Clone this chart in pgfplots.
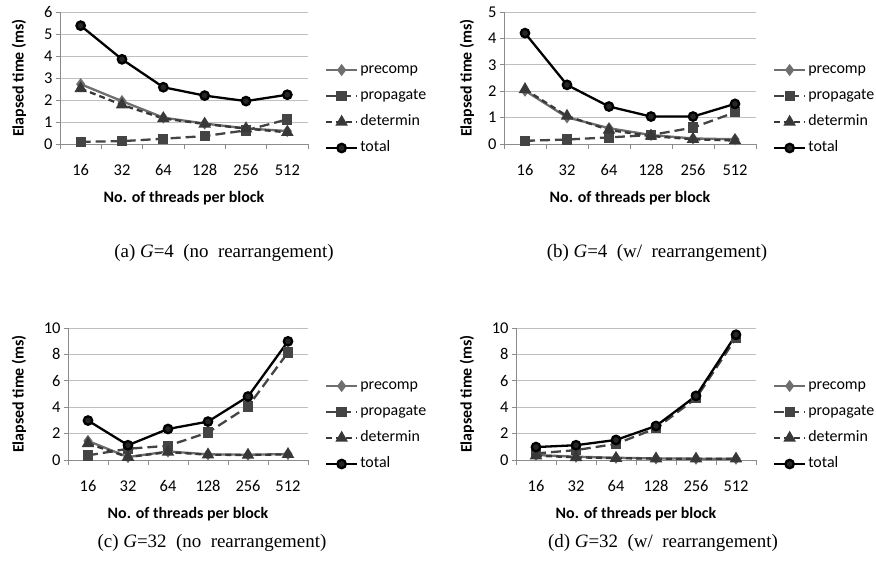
\documentclass[border=0pt]{standalone}
\usepackage{fontspec}
\setmainfont{Carlito}
\newfontfamily\capfont{Liberation Serif}
\usepackage{pgfplots}
\usepackage{pgfplotstable}
\pgfplotsset{compat=1.18}

\definecolor{gridc}{HTML}{BFBFBF}
\definecolor{axc}{HTML}{8C8C8C}
\definecolor{pre}{HTML}{6E6E6E}
\definecolor{prop}{HTML}{444444}
\definecolor{det}{HTML}{383838}

% x: 0..5 = 16,32,64,128,256,512 threads
\pgfplotstableread{
x pre prop det tot
0 2.72 0.10 2.52 5.38
1 1.95 0.13 1.78 3.85
2 1.20 0.24 1.16 2.58
3 0.93 0.36 0.91 2.20
4 0.71 0.62 0.70 1.95
5 0.59 1.12 0.53 2.24
}\tabA
\pgfplotstableread{
x pre prop det tot
0 2.02 0.12 2.07 4.20
1 1.01 0.17 1.06 2.24
2 0.60 0.25 0.53 1.42
3 0.34 0.34 0.30 1.04
4 0.21 0.62 0.18 1.04
5 0.18 1.20 0.13 1.52
}\tabB
\pgfplotstableread{
x pre prop det tot
0 1.45 0.35 1.25 2.99
1 0.22 0.85 0.22 1.12
2 0.65 1.08 0.60 2.35
3 0.43 2.08 0.40 2.91
4 0.40 4.05 0.38 4.81
5 0.45 8.15 0.43 8.99
}\tabC
\pgfplotstableread{
x pre prop det tot
0 0.38 0.50 0.33 0.98
1 0.25 0.75 0.20 1.12
2 0.17 1.22 0.14 1.52
3 0.12 2.40 0.10 2.58
4 0.10 4.68 0.09 4.86
5 0.10 9.24 0.09 9.49
}\tabD

\pgfplotsset{
  panel/.style={
    scale only axis, height=132bp,
    xmin=-0.5, xmax=5.5, ymin=0,
    xtick={0,...,5}, xticklabels={16,32,64,128,256,512},
    minor xtick={-0.5,0.5,...,5.5},
    major x tick style={draw=none},
    minor x tick style={axc, line width=0.8bp},
    minor tick length=5bp, major tick length=4bp,
    tick align=outside,
    axis x line*=bottom, axis y line*=left,
    axis line style={axc, line width=0.8bp, -},
    ymajorgrids, grid style={gridc, line width=0.8bp},
    ytick style={axc, line width=0.8bp},
    /pgf/number format/assume math mode=true,
    tick label style={font=\fontsize{16.5}{19}\selectfont, black},
    xticklabel style={yshift=-13bp},
    xlabel={No. of threads per block},
    ylabel={Elapsed time (ms)},
    label style={font=\fontsize{16}{19}\selectfont\bfseries},
    xlabel style={at={(axis description cs:0.5,-0.41)}, anchor=center},
    legend cell align=left,
    legend style={at={(1,0.265)}, anchor=west, xshift=17bp,
      draw=none, fill=none, inner sep=0pt, outer sep=0pt,
      font=\fontsize{16}{19}\selectfont,
      row sep=11bp,
      nodes={inner sep=0pt, text height=11bp, text depth=4bp},
      /tikz/every odd column/.append style={column sep=2bp}},
    legend image code/.code={
      \draw[mark repeat=2, mark phase=2] plot coordinates {(0bp,0bp) (15.5bp,0bp) (31bp,0bp)};},
    clip=false,
  },
  sPre/.style={pre, line width=2.3bp, mark=diamond*, mark size=4.2bp,
    mark options={solid, fill=pre, draw=pre}},
  sProp/.style={prop, line width=2.3bp, dash pattern=on 10bp off 5bp,
    mark=square*, mark size=4bp, mark options={solid, fill=prop}},
  sDet/.style={det, line width=2.3bp, dash pattern=on 6bp off 4bp,
    mark=triangle*, mark size=5bp, mark options={solid, fill=det}},
  sTot/.style={black, line width=2.3bp, mark=*, mark size=4.2bp,
    mark options={solid, fill=black!85}},
}

\newcommand\fourseries[1]{%
  \addplot[sPre] table[x=x, y=pre] {#1};
  \addplot[sProp] table[x=x, y=prop] {#1};
  \addplot[sDet] table[x=x, y=det] {#1};
  \addplot[sTot] table[x=x, y=tot] {#1};
  \legend{precomp, propagate, determin, total}
}

\begin{document}
\begin{tikzpicture}
\useasboundingbox (0,0) rectangle (876bp,-583bp);

\begin{axis}[panel, width=248bp, at={(60bp,-144bp)}, anchor=south west,
  ymax=6, ytick={0,...,6},
  ylabel style={at={(axis description cs:-0.165,0.5)}, anchor=center}]
\fourseries{\tabA}
\end{axis}

\begin{axis}[panel, width=252bp, at={(504bp,-144bp)}, anchor=south west,
  ymax=5, ytick={0,...,5},
  ylabel style={at={(axis description cs:-0.147,0.5)}, anchor=center}]
\fourseries{\tabB}
\end{axis}

\begin{axis}[panel, width=240bp, at={(68bp,-460bp)}, anchor=south west,
  ymax=10, ytick={0,2,...,10},
  ylabel style={at={(axis description cs:-0.204,0.5)}, anchor=center}]
\fourseries{\tabC}
\end{axis}

\begin{axis}[panel, width=240bp, at={(516bp,-460bp)}, anchor=south west,
  ymax=10, ytick={0,2,...,10},
  ylabel style={at={(axis description cs:-0.204,0.5)}, anchor=center}]
\fourseries{\tabD}
\end{axis}

\begin{scope}[every node/.style={font=\capfont\fontsize{19}{22}\selectfont}]
\node at (224bp,-253bp) {(a)\ \textit{G}=4\ \ (no\ \ rearrangement)};
\node at (657bp,-253bp) {(b)\ \textit{G}=4\ \ (w/\ \ rearrangement)};
\node at (212bp,-543bp) {(c)\ \textit{G}=32\ \ (no\ \ rearrangement)};
\node at (663bp,-543bp) {(d)\ \textit{G}=32\ \ (w/\ \ rearrangement)};
\end{scope}
\end{tikzpicture}
\end{document}
